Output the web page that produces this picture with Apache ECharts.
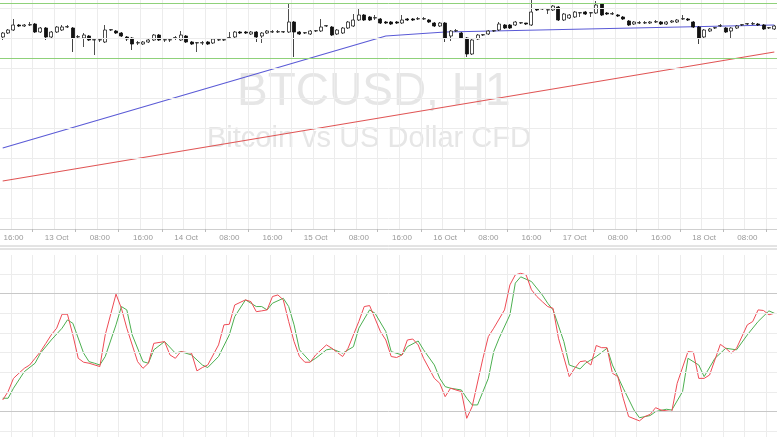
<!DOCTYPE html>
<html><head><meta charset="utf-8">
<script src="https://cdn.jsdelivr.net/npm/echarts@6/dist/echarts.min.js"></script>
<style>html,body{margin:0;padding:0;background:#fff}#c{width:777px;height:437px}</style>
</head><body><div id="c"></div>
<script>
// hourly categories: 12 Oct 14:00 .. 18 Oct 13:00
const startDay = 12, startHour = 14, nBars = 144;
const months = 'Oct';
const categories = [];
for (let i = 0; i < nBars; i++) {
  const h = startHour + i;
  const d = startDay + Math.floor(h / 24), hh = h % 24;
  categories.push(hh === 0 ? d + ' ' + months : (hh < 10 ? '0' : '') + hh + ':00');
}
// [open, close, low, high]
const candles = [
[663,667,660,668],[667,670,666,671],[670,675,669,681],[675,674,673,676],[674,675,673,676],[675,675.4,674,678],
[676,668,667,677],[668,672,667,673],[672,663,660,673],[663,668,662,669],[668,673,667,674],[670,673,669,675],
[673,673.4,672,675],[672,662,648,673],[663,663.4,661,665],[662,665,653,667],[664,660,659,665],[660,660.4,645,661],
[660,660.4,658,662],[658,670,657,675],[670,670.4,669,671],[669,667,666,670],[667,664,663,668],[663,661,659,664],
[662,656,650,663],[657,657.4,655,659],[656,658,655,659],[658,660,657,661],[660,665,659,666],[665,660,659,666],
[660,660.4,658,662],[660,660.4,658,662],[662,662.4,660,664],[660,665,659,669],[664,658,657,665],[658,656,655,659],
[657,657.4,648,658],
[657,657.4,655,659],[658,656,655,659],[657,661,656,662],[660,660.4,659,661],[660,660.4,659,661],[662,662.4,661,668],
[663,668,662,669],[668,667,666,669],[668,667,666,669],[666,668,665,669],[668,663,658,669],[664,667,657,668],
[667,669,666,670],[668,668.4,667,670],[668,668.4,667,670],[668,668.4,667,669],[668,678,667,697],[678,668,643,679],
[668,666,665,669],[667,667.4,666,668],[666,669,665,670],[669,669.4,668,670],[669,673,668,681],[674,674.4,673,675],
[673,665,664,674],[666,670,665,671],[667,672,666,673],[672,678,671,679],[674,680,673,686],[680,685,679,692],
[685,680,679,686],[683,680,679,684],[682,682.4,680,685],[681,677,676,682],[678,677,676,679],[678,676,675,679],
[678,677,676,679],[677,680,676,685],[681,680,679,682],[681,680,679,682],[681,681.4,680,683],[681,681.4,680,683],
[680,678,677,681],[677,674,673,678],[674,677,673,678],[677,662,658,678],[664,669,659,670],[669,669.4,668,671],
[667,662,661,668],[662,646,643,663],[646,660,645,661],[661,665,660,666],[665,665.4,664,666],[666,669,665,670],
[669,669.4,668,670],[670,676,669,678],[675,672,671,676],[675,672,671,676],[675,678,674,679],[677,677.4,676,678],
[677,676,675,677],[675,688,674,700],[691,690,689,692],[691,691.4,690,692],[690,690.4,686,691],[690,694,689,695],
[693,680,679,694],[680,686,679,687],[682,685,681,686],[683,688,682,689],[687,687.4,683,688],[688,686,685,689],
[687,687.4,683,688],[687,695,686,699],[696,685,684,697],[687,686,685,688],[686,686.4,685,688],[685,684,683,686],
[683,681,680,684],[679,675,674,680],[676,678,675,679],[677,677.4,676,679],[677,677.4,676,679],[677,678,676,679],
[678,678.4,677,680],[678,676,675,679],[676,678,675,679],[678,679,677,680],[678,680,677,681],[681,681.4,680,685],
[681,680,679,682],[678,673,672,679],[673,662,656,674],[663,670,662,671],[669,671,668,672],[672,672.4,671,673],
[674,674.4,673,676],[672,668,667,673],[669,672,662,673],[672,674,671,675],[675,675.4,674,676],[676,676.4,675,677],
[676,676.4,675,678],[676,675,674,677],[675,671,670,676],[672,672.4,671,673],[671,674,670,675]
];
// moving averages: [barIndex, price]
const maBlue = [[0,552],[71,664],[82,668],[143,675]];
const maRed = [[0,519],[72,584],[143,648]];
// horizontal range lines
const rangeTop = 697, rangeBottom = 642;
const priceGrid = [482,512,542,572,602,632,662,692];
// oscillator grid levels
const oscGrid = [10,30,40,50,60,70,90];
const oscLevels = [20,80];
// stochastic %K (red) and %D (green): [barIndex, value]
const stochK = [[0,25.9],[1,30.2],[2,36.9],[3,39.5],[4,42],[5,43.7],[6,47.1],[7,50.5],[8,54.7],[9,59],[10,62.4],[11,69.5],[12,69.5],[13,59],[14,47.1],[15,45.1],[16,44.6],[18,42.9],[19,59],[21,79.7],[22,72.5],[23,62.4],[25,45.4],[26,42],[27,44.6],[28,54.7],[30,55.6],[31,48.8],[32,47.1],[33,50.5],[35,49.7],[36,40.7],[37,42.4],[38,43.7],[40,53.9],[41,64.1],[42,64.4],[43,74.2],[45,76.8],[46,75.9],[47,70.8],
[48,71.2],[49,71.7],[50,78.5],[51,79.3],[52,76.8],[53,65.8],[54,55.6],[55,48],[56,45.1],[57,45.1],[58,48.8],[60,53.9],[61,52.2],[63,48],[64,52.2],[66,65.8],[67,73.4],[68,73.9],[70,60.7],[71,56.4],[72,48],[73,47.5],[74,48.8],[75,56.4],[76,56.9],[77,53.9],[78,47.1],[80,36.9],[81,34.4],[82,27.6],[83,31.9],[84,31],[85,30.2],[86,16.6],[87,22.5],[89,47.1],[90,58.1],[91,62.4],[93,71.7],[94,84.4],
[95,89.5],[96,90.3],[97,89.5],[98,81.9],[99,78.5],[100,75.9],[101,73.4],[102,72.5],[103,57.3],[105,37.8],[106,42],[107,45.4],[108,45.8],[109,43.7],[110,53.6],[111,52.5],[112,52.5],[113,39.5],[114,37.8],[115,26.8],[116,17.5],[118,15.3],[119,17.5],[120,18.6],[121,22],[122,20.8],[124,20],[125,34.4],[127,50.5],[128,50.2],[129,36.9],[130,36.9],[131,38.6],[133,54.2],[134,52.2],[135,49.7],[136,52.2],[138,64.1],[139,65.8],[140,71.7],[141,71.4],[142,69.2],[143,70]];
const stochD = [[0,26.8],[1,26.8],[2,31.9],[4,40.3],[6,44.6],[7,49.7],[9,56.4],[11,62.4],[12,66.6],[13,64.9],[15,49.7],[16,45.4],[17,44.6],[18,43.7],[19,48],[21,64.1],[22,73.4],[23,71.7],[24,59],[26,45.4],[27,44.6],[28,51.4],[30,55.6],[32,49.7],[33,50.5],[35,48.8],[37,43.7],[38,42.4],[40,48],[42,59],[43,68.3],[45,76.8],[46,75.1],[47,73.4],
[48,73.4],[49,71.7],[50,75.1],[52,77.6],[53,73.4],[54,64.1],[55,51.4],[57,45.4],[58,47.1],[60,51.4],[61,51.9],[63,49.7],[65,53],[66,62.4],[68,71.7],[69,70],[71,60.7],[72,50.5],[74,48.8],[75,53],[77,55.9],[78,51.4],[80,43.7],[81,36.9],[82,32.7],[83,31.9],[85,31],[86,26.8],[87,23.4],[88,23.4],[90,36.9],[91,50.5],[92,57.3],[94,69.2],
[95,85.3],[96,88.5],[98,86.1],[100,79.3],[101,75.1],[102,71.7],[104,55.6],[105,43.7],[107,41.7],[108,44.6],[110,48],[112,52.2],[113,43.7],[115,31.9],[117,20.8],[118,16.9],[120,18],[121,20],[123,21.2],[124,20.8],[126,30.2],[127,47.1],[129,43.7],[130,37.8],[132,47.1],[134,52.2],[136,51.4],[138,59],[140,65.8],[142,71.2],[143,70]];

const hourOf = i => (startHour + i) % 24;
const chart = echarts.init(document.getElementById('c'));
const gridCol = '#ececec';
const hLine = (v, c) => ({yAxis:v, lineStyle:{color:c, width:1, type:'solid'}});
chart.setOption({
  animation: false,
  graphic: [
    {type:'text', z:-10, left:237, top:69, style:{text:'BTCUSD, H1', font:'46px "Liberation Sans", Arial', fill:'#e6e6e6'}},
    {type:'text', z:-10, left:207, top:124, style:{text:'Bitcoin vs US Dollar CFD', font:'29px "Liberation Sans", Arial', fill:'#e6e6e6'}},
    {type:'rect', z:10, shape:{x:-1,y:246,width:779,height:3}, style:{fill:'#fff', stroke:'#c8c8c8', lineWidth:1}}
  ],
  grid: [
    {left:0, right:0, top:0, height:229},
    {left:0, right:0, top:255, bottom:0}
  ],
  xAxis: [
    {type:'category', gridIndex:0, data:categories, boundaryGap:true,
     axisLine:{lineStyle:{color:'#cfcfcf'}},
     axisTick:{show:true, interval:(i)=>hourOf(i)%8===4, length:3, lineStyle:{color:'#bbb'}},
     axisLabel:{interval:(i)=>hourOf(i)%8===0, color:'#999', fontSize:8, fontFamily:'"Liberation Sans", Arial', margin:5},
     splitLine:{show:true, interval:(i)=>hourOf(i)%4===0, lineStyle:{color:gridCol}}},
    {type:'category', gridIndex:1, data:categories, boundaryGap:true,
     axisLine:{show:false}, axisTick:{show:false}, axisLabel:{show:false},
     splitLine:{show:true, interval:(i)=>hourOf(i)%4===0, lineStyle:{color:gridCol}}}
  ],
  yAxis: [
    {type:'value', gridIndex:0, min:471, max:700, show:false, splitLine:{show:false}},
    {type:'value', gridIndex:1, min:7.1, max:99.6, show:false, splitLine:{show:false}}
  ],
  series: [
    {type:'line', xAxisIndex:0, yAxisIndex:0, data:[], silent:true,
     markLine:{symbol:'none', silent:true, label:{show:false}, animation:false,
       data:[...priceGrid.map(v=>hLine(v, gridCol)), hLine(rangeTop,'#8fd17a'), hLine(rangeBottom,'#8fd17a')]}},
    {type:'line', xAxisIndex:0, yAxisIndex:0, data:maBlue, showSymbol:false, symbol:'none',
     lineStyle:{color:'#5a5ad6', width:1.1}, z:3},
    {type:'line', xAxisIndex:0, yAxisIndex:0, data:maRed, showSymbol:false, symbol:'none',
     lineStyle:{color:'#e05555', width:1.1}, z:3},
    {type:'candlestick', xAxisIndex:0, yAxisIndex:0, data:candles, barWidth:3.5, z:4,
     itemStyle:{color:'#ffffff', color0:'#111111', borderColor:'#222222', borderColor0:'#111111', borderWidth:0.8}},
    {type:'line', xAxisIndex:1, yAxisIndex:1, data:[], silent:true,
     markLine:{symbol:'none', silent:true, label:{show:false}, animation:false,
       data:[...oscGrid.map(v=>hLine(v, gridCol)), ...oscLevels.map(v=>hLine(v,'#c8c8c8'))]}},
    {type:'line', xAxisIndex:1, yAxisIndex:1, data:stochD, showSymbol:false, symbol:'none',
     lineStyle:{color:'#4caf50', width:1}},
    {type:'line', xAxisIndex:1, yAxisIndex:1, data:stochK, showSymbol:false, symbol:'none',
     lineStyle:{color:'#ee4b55', width:1}}
  ]
});
</script></body></html>
